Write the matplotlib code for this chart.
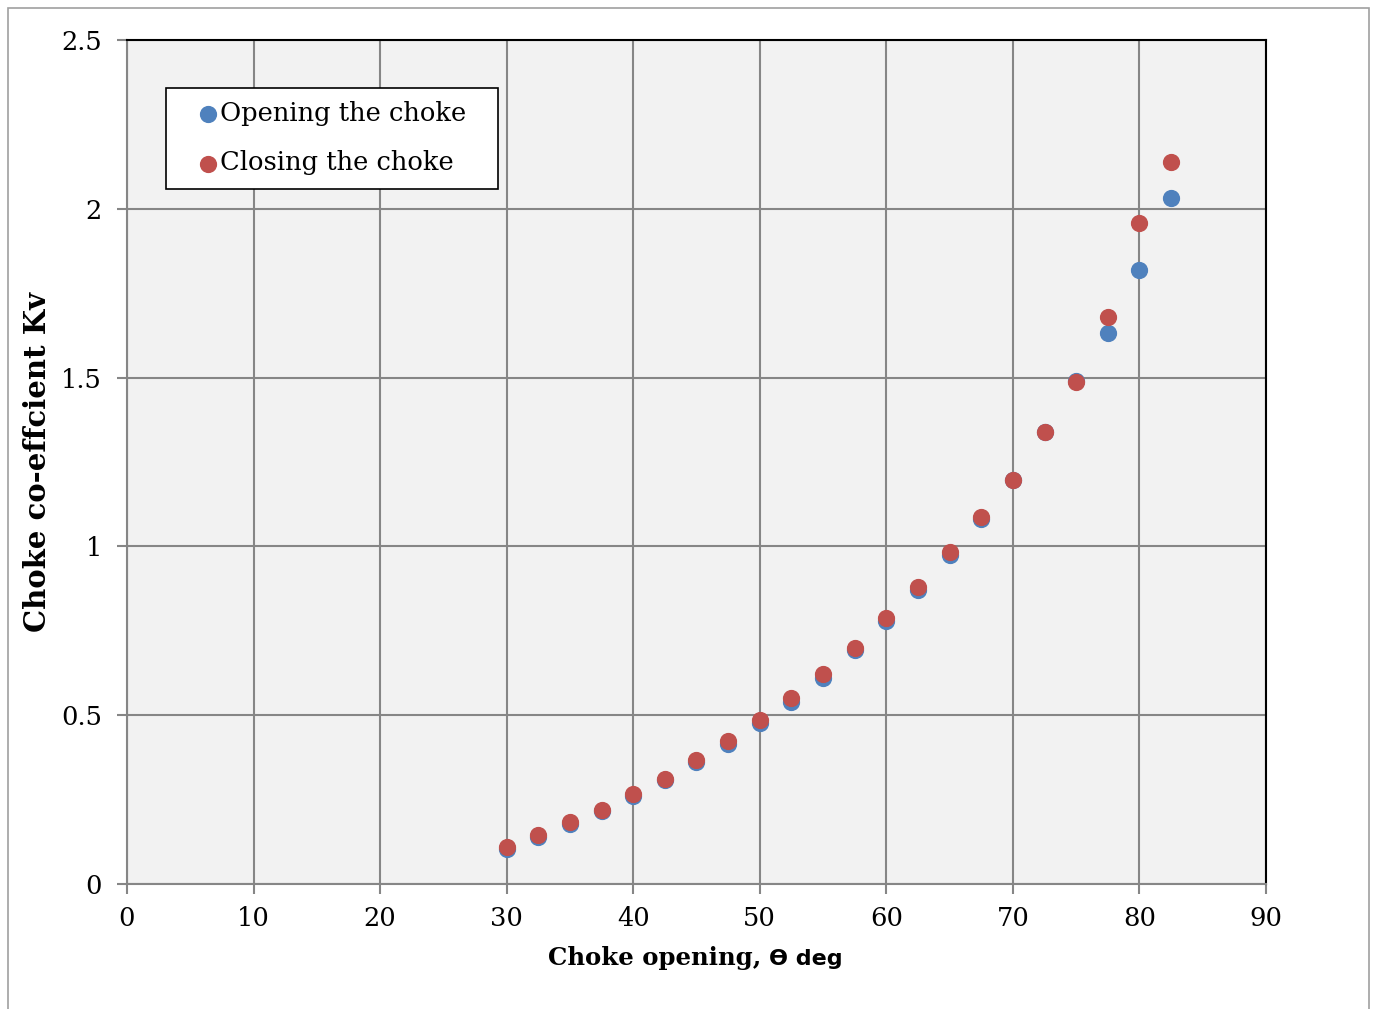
import matplotlib.pyplot as plt
from matplotlib.patches import Rectangle

# choke opening angle (deg)
theta = [30, 32.5, 35, 37.5, 40, 42.5, 45, 47.5, 50, 52.5, 55, 57.5,
         60, 62.5, 65, 67.5, 70, 72.5, 75, 77.5, 80, 82.5]

kv_opening = [0.104, 0.139, 0.178, 0.216, 0.261, 0.308, 0.361, 0.415, 0.477,
              0.539, 0.610, 0.693, 0.779, 0.871, 0.975, 1.081, 1.197, 1.339,
              1.490, 1.632, 1.819, 2.032]
kv_closing = [0.110, 0.145, 0.184, 0.219, 0.267, 0.311, 0.367, 0.424, 0.486,
              0.551, 0.622, 0.699, 0.788, 0.880, 0.983, 1.087, 1.197, 1.339,
              1.487, 1.680, 1.958, 2.139]

x_ticks = [0, 10, 20, 30, 40, 50, 60, 70, 80, 90]
y_ticks = [0, 0.5, 1, 1.5, 2, 2.5]
y_tick_labels = ['0', '0.5', '1', '1.5', '2', '2.5']

grey = '#868686'
serif = ['DejaVu Serif']

fig = plt.figure(figsize=(13.74, 10.09), dpi=100)
# outer chart border
fig.patches.append(Rectangle((0.0058, -0.01), 0.9906, 1.002, transform=fig.transFigure,
                             fill=False, edgecolor='#a0a0a0', linewidth=1.2))
ax = fig.add_axes([0.0924, 0.1239, 0.829, 0.8365])
ax.set_facecolor('#f2f2f2')

ax.scatter(theta, kv_opening, s=130, color='#4f81bd', zorder=3, label='Opening the choke')
ax.scatter(theta, kv_closing, s=130, color='#c0504d', zorder=4, label='Closing the choke')

ax.set_xlim(0, 90)
ax.set_ylim(0, 2.5)
ax.set_xticks(x_ticks)
ax.set_yticks(y_ticks)
ax.set_yticklabels(y_tick_labels)
ax.grid(True, color=grey, linewidth=1.5)
ax.set_axisbelow(True)
ax.tick_params(direction='out', length=7, width=1.5, color=grey, labelsize=18.5)
ax.tick_params(axis='y', pad=11)
ax.tick_params(axis='x', pad=9)
for lab in ax.get_xticklabels() + ax.get_yticklabels():
    lab.set_family(serif)

for side in ['left', 'bottom']:
    ax.spines[side].set_color(grey)
    ax.spines[side].set_linewidth(1.5)
for side in ['top', 'right']:
    ax.spines[side].set_color('black')
    ax.spines[side].set_linewidth(1.5)

# x label: serif part + sans theta part
fig.text(0.5600, 0.0436, 'Choke opening, ', fontsize=17.6, fontweight='bold', family=serif,
         ha='right', va='baseline')
fig.text(0.5600, 0.0436, 'ϴ deg', fontsize=16, fontweight='bold', family=['DejaVu Sans'],
         ha='left', va='baseline')
fig.text(0.027, 0.542, 'Choke co-effcient Kv', fontsize=21, fontweight='bold', family=serif,
         rotation=90, ha='center', va='center')

leg = ax.legend(loc='upper left', bbox_to_anchor=(0.0342, 0.825, 0.2915, 0.1185), mode='expand',
                frameon=True, fancybox=False, edgecolor='black', facecolor='white',
                framealpha=1, handletextpad=-0.69, borderpad=0.52, labelspacing=0.95,
                handlelength=2.27, borderaxespad=0, prop={'family': serif, 'size': 18.5})
leg.get_frame().set_linewidth(1.2)

fig.savefig('out.png', dpi=100)
